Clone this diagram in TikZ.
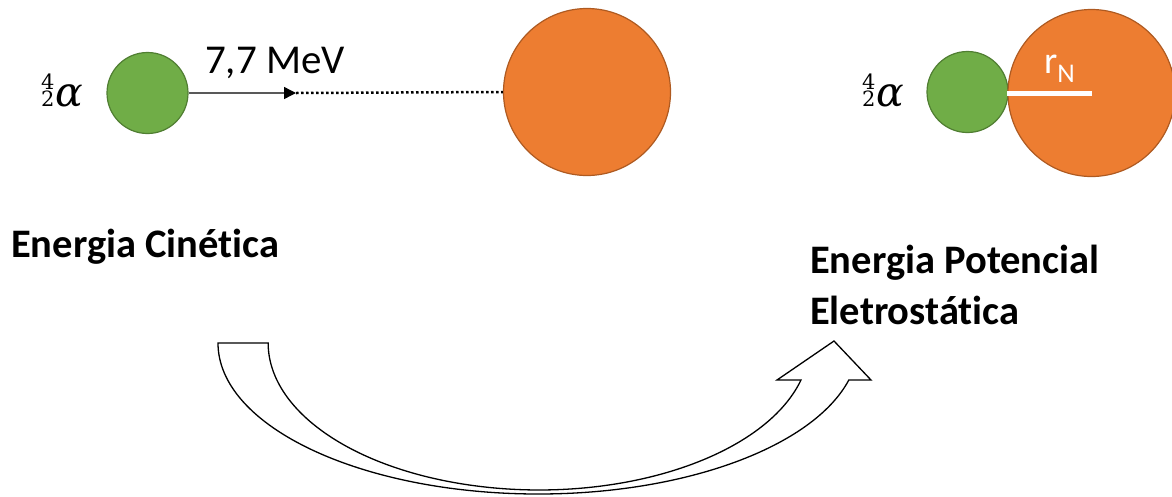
\documentclass[tikz,border=0pt]{standalone}
\usepackage{fontspec}
\setmainfont{Carlito}[Ligatures=NoCommon]
\newfontfamily\alphafont{DejaVu Serif}
\usetikzlibrary{arrows.meta}
\definecolor{grn}{HTML}{70AD47}
\definecolor{grnline}{HTML}{507E32}
\definecolor{org}{HTML}{ED7D31}
\definecolor{orgline}{HTML}{AE5A21}
\definecolor{arrgray}{HTML}{595959}
\newcommand{\alphasym}{{\alphafont\fontsize{21}{17.5}\selectfont\vbox{\hbox{4}\hbox{2}}}\kern1pt{\alphafont\itshape\fontsize{41}{41}\selectfont α}}
\tikzset{
  alphaball/.style={circle, fill=grn, draw=grnline, line width=1.2pt, minimum size=81pt, inner sep=0pt},
  nucleus/.style={circle, fill=org, draw=orgline, line width=1.2pt, minimum size=167pt, inner sep=0pt},
  lbl/.style={anchor=base west, inner sep=0pt, font=\fontsize{40.5}{51}\selectfont\bfseries, align=left},
  alphalbl/.style={anchor=base west, inner sep=0pt},
  bigarrow/.style={draw=black, fill=white, line width=1.3pt, line join=miter}
}
\begin{document}
\begin{tikzpicture}[x=1pt,y=1pt]
\useasboundingbox (0,0) rectangle (1172,-496);
% left scene
\node[alphalbl] (a1) at (41,-106.5) {\alphasym};
\node[alphaball] (g1) at (147.5,-93) {};
\node[nucleus] (o1) at (587,-92) {};
\coordinate (tip) at (296,-93);
\draw[arrgray, line width=1.4pt, -{Triangle[length=12pt,width=12pt,color=black]}] (g1.east) -- (tip);
\draw[black, line width=2.5pt, dash pattern=on 2.5pt off 2.5pt] (tip) -- (o1.west);
\node[anchor=base west, inner sep=0pt, font=\fontsize{41}{41}\selectfont] (mev) at (205,-73) {7,7 MeV};
% right scene
\node[alphalbl] (a2) at (862,-106.5) {\alphasym};
\node[alphaball] (g2) at (967.5,-92) {};
\node[nucleus] (o2) at (1091.5,-93) {};
\draw[white, line width=5pt] (o2.west) -- (o2.center);
\node[anchor=base west, inner sep=0pt, text=white, font=\fontsize{38}{38}\selectfont] (rn) at (1044,-73) {r\raisebox{-9pt}{\fontsize{27}{27}\selectfont N}};
% labels
\node[lbl] (ec) at (11,-257.3) {Energia Cinét\kern0pt ica};
\node[lbl] (ep) at (810,-324) {Energia Potencial\\Eletrostát\kern0pt ica};
% curved block arrow
\draw[bigarrow] (218,-343)
  arc[start angle=180, end angle=345.82, x radius=320.3, y radius=151]
  -- (871,-380) -- (834,-341) -- (777,-380) -- (801,-380)
  arc[start angle=345.4, end angle=180, x radius=270.8, y radius=147]
  -- cycle;
\end{tikzpicture}
\end{document}
